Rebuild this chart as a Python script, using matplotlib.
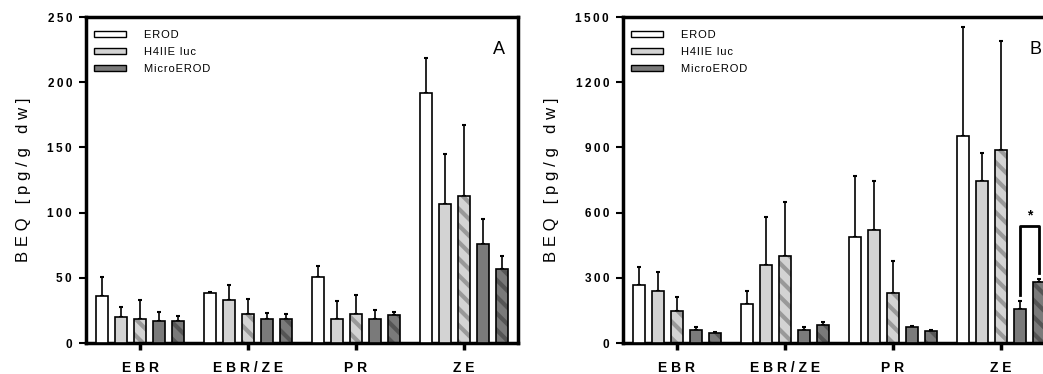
import numpy as np
import matplotlib.pyplot as plt

plt.rcParams['font.family'] = ['Liberation Sans', 'DejaVu Sans']
plt.rcParams['hatch.linewidth'] = 3.0

groups = ['EBR', 'EBR/ZE', 'PR', 'ZE']
series = ['EROD', 'H4IIE luc', 'H4IIE luc', 'MicroEROD', 'MicroEROD']
hatched = [False, False, True, False, True]

# panel A - means and mean+sd (upper whisker end)
a_vals = [[35.7, 19.6, 18.4, 16.6, 16.6],
          [38.0, 32.7, 22.4, 18.4, 18.4],
          [50.3, 18.4, 22.2, 18.4, 21.4],
          [191.8, 106.4, 112.5, 75.8, 57.1]]
a_tops = [[50.5, 27.5, 32.7, 23.7, 20.4],
          [39.0, 44.6, 33.4, 23.0, 22.2],
          [59.4, 31.9, 36.5, 25.0, 23.5],
          [218.4, 145.2, 166.8, 94.9, 66.6]]

# panel B
b_vals = [[268, 238, 147, 61, 48],
          [179, 360, 402, 58, 83],
          [486, 521, 229, 72, 57],
          [954, 744, 888, 156, 279]]
b_tops = [[348, 325, 210, 72, 51],
          [238, 581, 649, 72, 98],
          [767, 744, 376, 77, 58],
          [1454, 874, 1388, 192, 294]]

fills = ['white', '#d3d3d3', '#d3d3d3', '#7a7a7a', '#7a7a7a']
hatch_cols = [None, None, '#999999', None, '#555555']


def spaced(s, sep='\u2009'):
    return sep.join(s)


def panel(ax, vals, tops, ymax, step, letter):
    vals = np.array(vals)
    tops = np.array(tops)
    x = np.arange(len(groups))
    pitch = 0.176
    w = 0.12
    for i in range(5):
        xi = x + (i - 2) * pitch
        if hatched[i]:
            ax.bar(xi, vals[:, i], w, color=fills[i], hatch='\\\\',
                   edgecolor=hatch_cols[i], linewidth=0, zorder=2)
            ax.bar(xi, vals[:, i], w, fill=False, edgecolor='black',
                   linewidth=1.2, zorder=3)
        else:
            ax.bar(xi, vals[:, i], w, color=fills[i], edgecolor='black',
                   linewidth=1.2, zorder=3)
        ax.errorbar(xi, vals[:, i], yerr=[np.zeros(4), tops[:, i] - vals[:, i]],
                    fmt='none', ecolor='black', elinewidth=1.2, capsize=1.5,
                    capthick=1.5, zorder=1)
    ax.set_xlim(-0.5, 3.5)
    ax.set_ylim(0, ymax)
    ax.set_yticks(np.arange(0, ymax + 1, step))
    ax.set_yticklabels([spaced(str(v)) for v in np.arange(0, ymax + 1, step)],
                       fontsize=8.5, fontweight='bold')
    ax.set_xticks(x)
    ax.set_xticklabels([spaced(g, '\u2009\u200a') for g in groups], fontsize=10,
                       fontweight='bold')
    ax.tick_params(axis='y', length=5, width=1.5, pad=5)
    ax.tick_params(axis='x', length=5, width=2.5, pad=8)
    for sp in ax.spines.values():
        sp.set_linewidth(2.5)
    ax.set_ylabel(spaced('BEQ [pg/g dw]', '\u2009\u200a'), fontsize=12, labelpad=12)
    ax.text(0.955, 0.9, letter, transform=ax.transAxes, fontsize=13,
            ha='center', va='center')
    # legend proxies
    handles = [plt.Rectangle((0, 0), 1, 1, facecolor=fills[k],
                             edgecolor='black', linewidth=1.0) for k in (0, 1, 3)]
    ax.legend(handles, [spaced(s, '\u200a') for s in ['EROD', 'H4IIE luc', 'MicroEROD']],
              loc='upper left', frameon=False, fontsize=8, handlelength=2.9,
              handleheight=0.5, handletextpad=1.6, labelspacing=0.65,
              borderaxespad=0.3, bbox_to_anchor=(0.0, 0.985))
    return x, pitch


fig = plt.figure(figsize=(10.43, 3.74), dpi=100)
ax_a = fig.add_axes([86 / 1043, 31 / 374, 432 / 1043, 326 / 374])
ax_b = fig.add_axes([623 / 1043, 31 / 374, 432 / 1043, 326 / 374])

panel(ax_a, a_vals, a_tops, 250, 50, 'A')
x, pitch = panel(ax_b, b_vals, b_tops, 1500, 300, 'B')

# significance bracket between the two MicroEROD bars for ZE (panel B)
bracket_y = 540
xl = x[3] + 1 * pitch
xr = x[3] + 2 * pitch
ax_b.plot([xl, xl, xr, xr], [b_tops[3][3] + 30, bracket_y, bracket_y, b_tops[3][4] + 28],
          color='black', linewidth=2, clip_on=False, zorder=4)
ax_b.text((xl + xr) / 2, bracket_y + 15, '*', ha='center', va='bottom',
          fontsize=10, fontweight='bold')

fig.savefig('out.png', dpi=100)
